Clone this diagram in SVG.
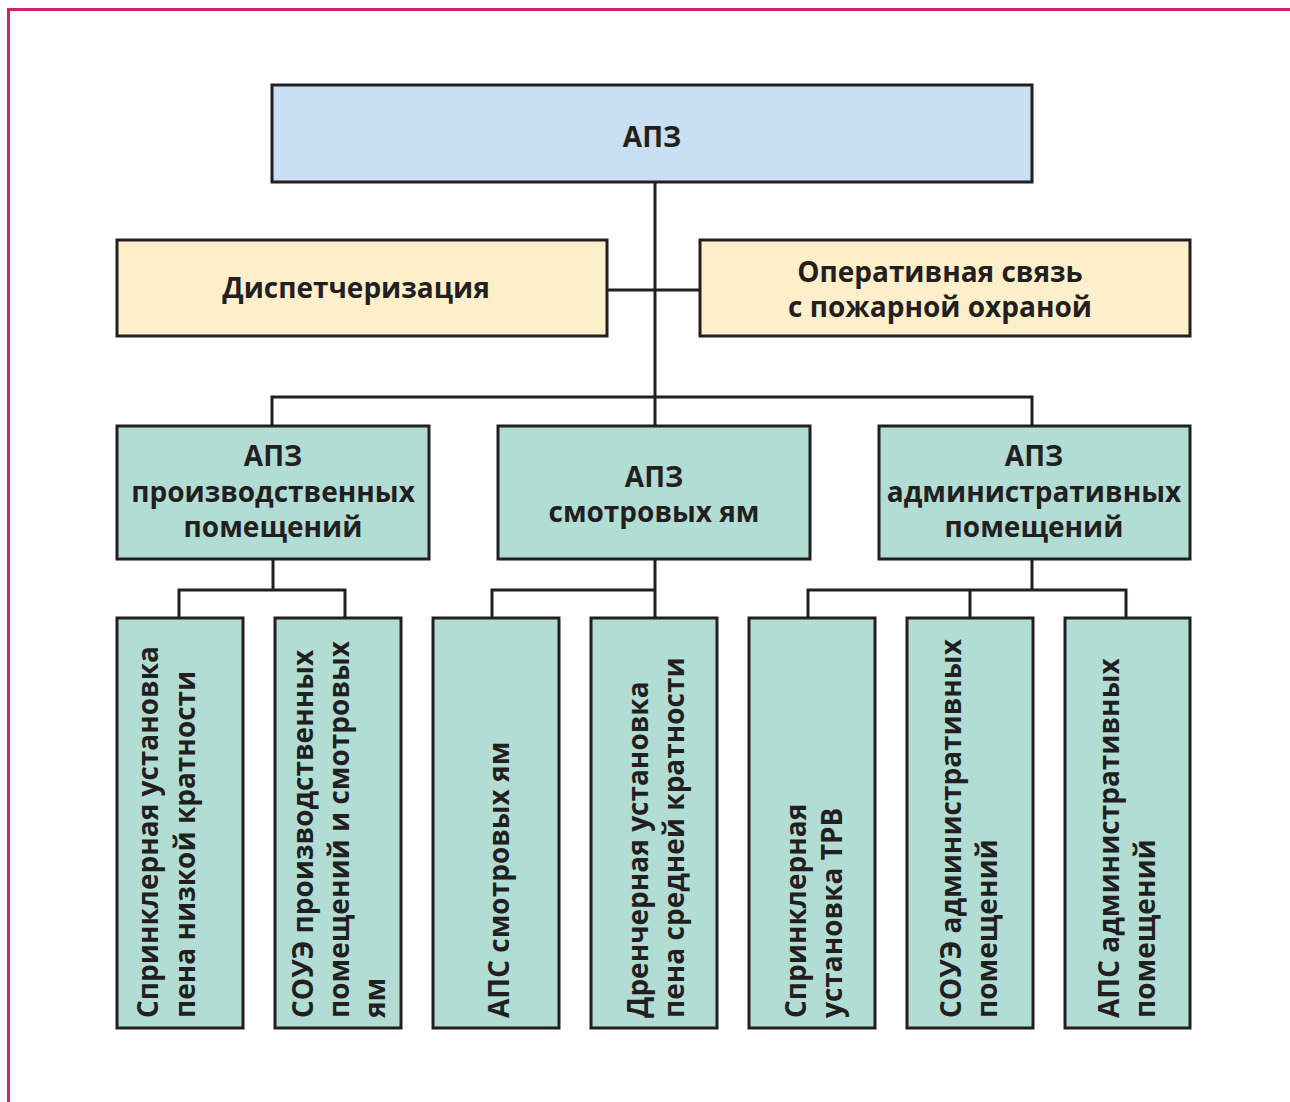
<svg xmlns="http://www.w3.org/2000/svg" width="1290" height="1102" viewBox="0 0 1290 1102">
<style>
.box{stroke:#231f20;stroke-width:3}
.blue{fill:#c9dff2}
.yel{fill:#fdefc9}
.teal{fill:#b2ddd4}
.t{font-family:"Open Sans","Liberation Sans",sans-serif;font-weight:bold;font-size:28px;fill:#231f20}
.c{text-anchor:middle}
.conn{stroke:#231f20;stroke-width:3;fill:none}
</style>
<rect width="1290" height="1102" fill="#fff"/>
<path d="M1290 9.5 H8.5 V1102" fill="none" stroke="#cc2469" stroke-width="3"/>
<g id="connectors" class="conn">
<path d="M655 182 V397"/>
<path d="M607 290 H700"/>
<path d="M272 426 V397 H1032 V426"/>
<path d="M655 397 V426"/>
<path d="M273 559 V590"/>
<path d="M179 618 V590 H345 V618"/>
<path d="M655 559 V618"/>
<path d="M492 618 V590 H655"/>
<path d="M1032 559 V590"/>
<path d="M808 618 V590 H1126 V618"/>
<path d="M970 590 V618"/>
</g>
<g id="n-apz">
<rect class="box blue" x="272" y="85" width="760" height="97"/>
<text class="t c" x="652" y="147">АПЗ</text>
</g>
<g id="n-disp">
<rect class="box yel" x="117" y="240" width="490" height="96"/>
<text class="t c" x="356" y="298">Диспетчеризация</text>
</g>
<g id="n-oper">
<rect class="box yel" x="700" y="240" width="490" height="96"/>
<text class="t c" x="940" y="282">Оперативная связь</text>
<text class="t c" x="940" y="317">с пожарной охраной</text>
</g>
<g id="n-apz-prod">
<rect class="box teal" x="117" y="426" width="312" height="133"/>
<text class="t c" x="273" y="466">АПЗ</text>
<text class="t c" x="273" y="502">производственных</text>
<text class="t c" x="273" y="537">помещений</text>
</g>
<g id="n-apz-smotr">
<rect class="box teal" x="498" y="426" width="312" height="133"/>
<text class="t c" x="654" y="487">АПЗ</text>
<text class="t c" x="654" y="522">смотровых ям</text>
</g>
<g id="n-apz-adm">
<rect class="box teal" x="879" y="426" width="311" height="133"/>
<text class="t c" x="1034" y="466">АПЗ</text>
<text class="t c" x="1034" y="502">административных</text>
<text class="t c" x="1034" y="537">помещений</text>
</g>
<g id="n-b1">
<rect class="box teal" x="117" y="618" width="126" height="410"/>
<g transform="translate(0,1018) rotate(-90)">
<text class="t" x="0" y="158">Спринклерная установка</text>
<text class="t" x="0" y="195">пена низкой кратности</text>
</g>
</g>
<g id="n-b2">
<rect class="box teal" x="275" y="618" width="126" height="410"/>
<g transform="translate(0,1018) rotate(-90)">
<text class="t" x="0" y="313">СОУЭ производственных</text>
<text class="t" x="0" y="349">помещений и смотровых</text>
<text class="t" x="0" y="385">ям</text>
</g>
</g>
<g id="n-b3">
<rect class="box teal" x="433" y="618" width="126" height="410"/>
<g transform="translate(0,1018) rotate(-90)">
<text class="t" x="0" y="509">АПС смотровых ям</text>
</g>
</g>
<g id="n-b4">
<rect class="box teal" x="591" y="618" width="126" height="410"/>
<g transform="translate(0,1018) rotate(-90)">
<text class="t" x="0" y="648">Дренчерная установка</text>
<text class="t" x="0" y="684">пена средней кратности</text>
</g>
</g>
<g id="n-b5">
<rect class="box teal" x="749" y="618" width="126" height="410"/>
<g transform="translate(0,1018) rotate(-90)">
<text class="t" x="0" y="806">Спринклерная</text>
<text class="t" x="0" y="842">установка ТРВ</text>
</g>
</g>
<g id="n-b6">
<rect class="box teal" x="907" y="618" width="126" height="410"/>
<g transform="translate(0,1018) rotate(-90)">
<text class="t" x="0" y="961">СОУЭ административных</text>
<text class="t" x="0" y="997">помещений</text>
</g>
</g>
<g id="n-b7">
<rect class="box teal" x="1065" y="618" width="125" height="410"/>
<g transform="translate(0,1018) rotate(-90)">
<text class="t" x="0" y="1119">АПС административных</text>
<text class="t" x="0" y="1155">помещений</text>
</g>
</g>
</svg>
